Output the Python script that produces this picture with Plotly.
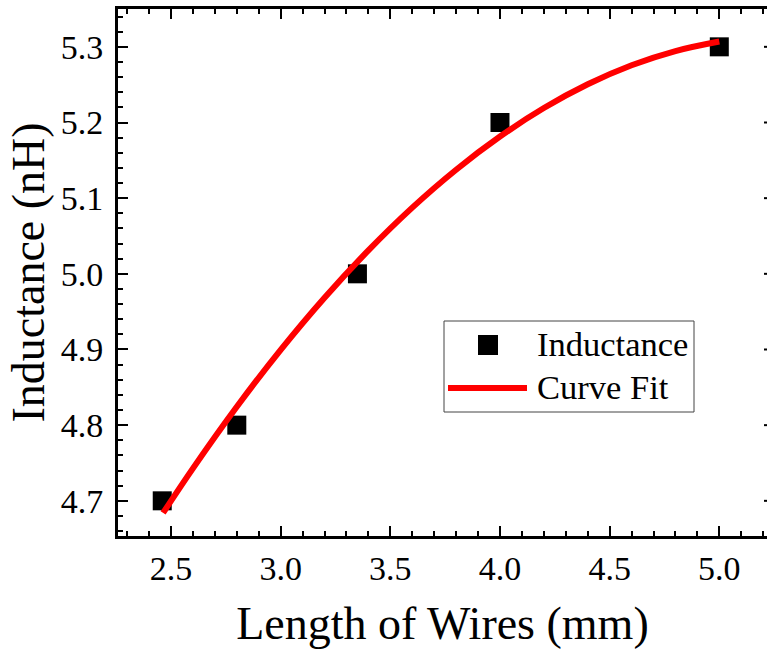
import plotly.graph_objects as go

# ---- data ----
wire_length = [2.46, 2.80, 3.35, 4.00, 5.00]          # mm
inductance = [4.70, 4.80, 5.00, 5.20, 5.30]           # nH

fit_x = [2.464, 2.6, 2.8, 3.0, 3.2, 3.4, 3.6, 3.8, 4.0, 4.2, 4.4, 4.6, 4.8, 5.0]
fit_y = [4.6840, 4.7429, 4.8243, 4.8995, 4.9684, 5.0310, 5.0875, 5.1376, 5.1814,
         5.2191, 5.2505, 5.2756, 5.2944, 5.3070]

x_ticks = [2.5, 3.0, 3.5, 4.0, 4.5, 5.0]
x_tick_labels = ["2.5", "3.0", "3.5", "4.0", "4.5", "5.0"]
y_ticks = [4.7, 4.8, 4.9, 5.0, 5.1, 5.2, 5.3]
y_tick_labels = ["4.7", "4.8", "4.9", "5.0", "5.1", "5.2", "5.3"]

series_names = ["Inductance", "Curve Fit"]

FONT = "Liberation Serif"

W, H = 767, 656
ML, MR, MT, MB = 118, 0, 9, 120
PW = W - ML - MR
PH = H - MT - MB

fig = go.Figure()
fig.add_trace(go.Scatter(
    x=wire_length, y=inductance, mode="markers", name=series_names[0],
    marker=dict(symbol="square", size=19, color="black", line=dict(width=0)),
    showlegend=False, cliponaxis=False))
fig.add_trace(go.Scatter(
    x=fit_x, y=fit_y, mode="lines", name=series_names[1], line_shape="spline",
    line=dict(color="#ff0000", width=6), showlegend=False))

axis_common = dict(
    showgrid=False, zeroline=False, showline=True, linecolor="black", linewidth=3,
    ticks="inside", ticklen=10, tickwidth=2, tickcolor="black",
    tickfont=dict(family=FONT, size=34, color="black"),
)

fig.update_xaxes(
    **axis_common, range=[2.2583, 5.2175], mirror="ticks",
    tickmode="array", tickvals=x_ticks, ticktext=x_tick_labels,
    minor=dict(ticks="inside", ticklen=5, tickwidth=2, tickcolor="black",
               dtick=0.1, tick0=2.5, showgrid=False),
    title=dict(text="Length of Wires (mm)", font=dict(family=FONT, size=46, color="black"),
               standoff=22),
)
fig.update_yaxes(
    **axis_common, range=[4.6535, 5.35], mirror=False, ticklabelstandoff=5,
    tickmode="array", tickvals=y_ticks, ticktext=y_tick_labels,
    minor=dict(ticks="inside", ticklen=5, tickwidth=2, tickcolor="black",
               dtick=0.02, tick0=4.7, showgrid=False),
    title=dict(text="Inductance (nH)", font=dict(family=FONT, size=46, color="black"),
               standoff=2),
)

shapes = []
# stubs of the right-hand axis ticks (the right spine lies just beyond the image edge)
for yt in y_ticks:
    shapes.append(dict(type="line", xref="paper", yref="y",
                       x0=(764 - ML) / PW, x1=1.0, y0=yt, y1=yt,
                       line=dict(color="black", width=2)))

def px_x(p):
    return (p - ML) / PW

def px_y(p):
    return (MT + PH - p) / PH

# legend box
shapes.append(dict(type="rect", xref="paper", yref="paper",
                   x0=px_x(444), x1=px_x(694), y0=px_y(412), y1=px_y(321),
                   line=dict(color="#444444", width=1), fillcolor="white", layer="above"))
# legend square
shapes.append(dict(type="rect", xref="paper", yref="paper",
                   x0=px_x(478), x1=px_x(498), y0=px_y(355), y1=px_y(335),
                   line=dict(width=0), fillcolor="black", layer="above"))
# legend line
shapes.append(dict(type="line", xref="paper", yref="paper",
                   x0=px_x(448), x1=px_x(527), y0=px_y(388), y1=px_y(388),
                   line=dict(color="#ff0000", width=6), layer="above"))

annotations = [
    dict(text=series_names[0], xref="paper", yref="paper", x=px_x(535), y=px_y(344),
         xanchor="left", yanchor="middle", showarrow=False,
         font=dict(family=FONT, size=34.5, color="black")),
    dict(text=series_names[1], xref="paper", yref="paper", x=px_x(535), y=px_y(387),
         xanchor="left", yanchor="middle", showarrow=False,
         font=dict(family=FONT, size=34.5, color="black")),
]

fig.update_layout(
    width=W, height=H,
    margin=dict(l=ML, r=MR, t=MT, b=MB, autoexpand=False),
    paper_bgcolor="white", plot_bgcolor="white",
    showlegend=False, shapes=shapes, annotations=annotations,
    font=dict(family=FONT, color="black"),
)

fig.write_html("out.html", config={"displayModeBar": False},
               post_script="document.body.style.margin='0';document.body.style.padding='0';")
